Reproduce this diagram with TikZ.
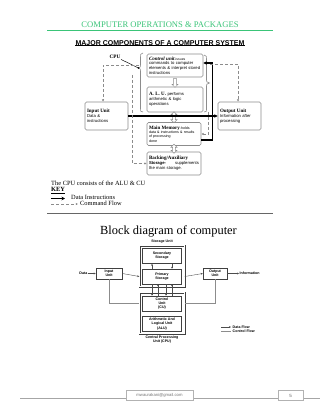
\documentclass[tikz,border=0pt]{standalone}
\usepackage{fontspec}
\setmainfont{Liberation Serif}
\newfontfamily\arial{Liberation Sans}
\usetikzlibrary{arrows.meta,shapes.arrows}
\definecolor{hdrgreen}{RGB}{58,196,120}
\definecolor{boxgray}{RGB}{140,140,140}
\newcommand\bxtitle{\rmfamily\bfseries\fontsize{5}{5.5}\selectfont}
\begin{document}
\begin{tikzpicture}[x=1pt,y=-1pt,
  ubox/.style={draw=boxgray, rounded corners=1.5pt, line width=0.6pt, align=left, inner sep=2pt,
    font=\arial\fontsize{4.2}{4.8}\selectfont},
  dataline/.style={line width=1.2pt, -{Stealth[length=3.5pt,width=3.5pt]}},
  cmd/.style={boxgray, line width=0.5pt, dash pattern=on 3pt off 2pt, -{Latex[length=2.2pt,width=2.2pt]}},
  brc/.style={boxgray, line width=0.6pt},
  hollow/.style={draw=boxgray, fill=white, line width=0.5pt, inner sep=0.8pt, minimum width=6pt},
  lbox/.style={draw=black!75, line width=0.5pt, align=center, inner sep=0.5pt,
    font=\arial\bfseries\fontsize{3.6}{4.1}\selectfont},
  dblbox/.style={draw=black!75, line width=0.45pt, double, double distance=1.1pt},
  ltext/.style={font=\arial\bfseries\fontsize{3.6}{4.1}\selectfont, align=center, inner sep=0.5pt},
  df/.style={black!70, line width=0.4pt, -{Stealth[length=2pt,width=1.8pt]}},
  cf/.style={black!45, line width=0.4pt},
  keytext/.style={font=\fontsize{6.4}{7}\selectfont, anchor=west, inner sep=0pt}
]
\useasboundingbox (0,0) rectangle (320,414);
\fill[white] (0,0) rectangle (320,414);

% header
\node[text=hdrgreen, font=\fontsize{8.6}{9}\selectfont, inner sep=0pt] (hdr) at (160,24.3) {COMPUTER OPERATIONS \& PACKAGES};
\coordinate (hl1) at (47,30.8);
\coordinate (hl2) at (273,30.8);
\draw[hdrgreen, line width=0.8pt] (hl1) -- (hl2);
\node[font=\arial\bfseries\fontsize{7}{8}\selectfont, inner sep=0pt] (major) at (160,42.7) {MAJOR COMPONENTS OF A COMPUTER SYSTEM};
\draw[line width=0.5pt] (major.south west) -- (major.south east);

% upper diagram boxes
\node[ubox, text width=52pt, minimum height=23pt] (cu) at (175,65.5)
  {{\bxtitle\itshape Control unit}{\fontsize{3.4}{4}\selectfont -issues}\\ commands to computer\\ elements \& interpret stored\\ instructions};
\node[ubox, text width=52pt, minimum height=25pt] (alu) at (175,99.5)
  {{\bxtitle A. L. U.} performs\\ arithmetic \& logic\\ operations};
\node[ubox, text width=50pt, minimum height=23pt, font=\arial\fontsize{3.6}{4.3}\selectfont] (mm) at (174,134)
  {{\bxtitle Main Memory}-holds\\ data \& instructions \& results\\ of processing\\ done};
\node[ubox, text width=50pt, minimum height=23pt] (bk) at (174,163.5)
  {{\bxtitle Backing/Auxiliary}\\ {\bfseries Storage-}\hfill supplements\\ the main storage.};
\node[ubox, text width=39pt, minimum height=28pt] (inu) at (106.5,116)
  {{\bxtitle Input Unit}\\ Data \&\\ instructions};
\node[ubox, text width=39pt, minimum height=28pt] (outu) at (239.5,116)
  {{\bxtitle Output Unit}\\ Information after\\ processing};

% hollow arrows between boxes
\node[single arrow, hollow, rotate=-90, minimum height=9pt, single arrow head extend=1.3pt] (h1) at (175,82.2) {};
\node[double arrow, hollow, rotate=90, minimum height=11pt, double arrow head extend=1.3pt] (h2) at (174,117.2) {};
\node[double arrow, hollow, rotate=90, minimum height=9pt, double arrow head extend=1.3pt] (h3) at (174,148.8) {};

% CPU label and braces
\node[font=\bfseries\fontsize{5.2}{6}\selectfont, inner sep=0.5pt] (cpu) at (115,57) {CPU};
\coordinate (lbtip) at (138.5,68);
\draw[brc] (143,53) .. controls (140,53) and (140.5,55) .. (140.5,58) -- (140.5,65)
  .. controls (140.5,67) .. (lbtip) .. controls (140.5,69) .. (140.5,71) -- (140.5,108)
  .. controls (140.5,111) and (140,112) .. (143,112);
\draw[line width=0.45pt] (cpu.south east) -- (lbtip);
\fill (lbtip) circle (0.9pt);
\coordinate (rbtip) at (209.5,83);
\draw[brc] (204,55) .. controls (207,55) and (206.5,57) .. (206.5,60) -- (206.5,80)
  .. controls (206.5,82) .. (rbtip) .. controls (206.5,84) .. (206.5,86) -- (206.5,109)
  .. controls (206.5,111) and (207,112) .. (204,112);

% data lines
\draw[dataline] (inu.east) -- (outu.west);
\coordinate (d1) at (212.5,140);
\coordinate (d2) at (212.5,63);
\draw[line width=1.2pt] (mm.east |- d1) -- (d1) -- (d2);
\draw[dataline] (d2) -- (cu.east |- d2);

% command flow
\coordinate (c0) at (139,65);
\coordinate (c1) at (103,65);
\draw[cmd] (c0) -- (c1) -- (c1 |- inu.north);
\coordinate (c3) at (132,75);
\draw[cmd] (c3) -- (c3 |- bk.west) -- (bk.west);
\coordinate (c4) at (210,64);
\coordinate (c5) at (238,64);
\draw[cmd] (c4) -- (c5) -- (c5 |- outu.north);
\coordinate (c6) at (208.5,112);
\draw[cmd] (c6) -- (c6 |- mm.east) -- (mm.east);

% key
\node[keytext] (cons) at (51,183.5) {The CPU consists of the ALU \& CU};
\node[keytext, font=\bfseries\fontsize{6.4}{7}\selectfont] (key) at (51,190.5) {\underline{KEY}};
\coordinate (k1) at (51,198.5);
\coordinate (k2) at (65,198.5);
\draw[dataline] (k1) -- (k2);
\node[keytext] (kd) at (71,197.2) {Data Instructions};
\coordinate (k3) at (51,204);
\coordinate (k4) at (78,204);
\draw[cmd] (k3) -- (k4);
\node[keytext] (kc) at (80,203.5) {Command Flow};
\coordinate (s1) at (47,213);
\coordinate (s2) at (273,213);
\draw[black!60, line width=0.8pt] (s1) -- (s2);

% lower diagram
\node[font=\fontsize{12.4}{13}\selectfont, inner sep=0pt] (bdtitle) at (168.5,231.5) {Block diagram of computer};
\node[ltext] (stlab) at (162,242) {Storage Unit};
\node[dblbox, minimum width=45pt, minimum height=41pt] (stor) at (162,266) {};
\node[lbox, minimum width=39pt, minimum height=15pt] (sec) at (162,256) {Secondary\\Storage};
\node[lbox, minimum width=39pt, minimum height=15pt] (prim) at (162,276.5) {Primary\\Storage};
\node[lbox, minimum width=26pt, minimum height=11pt] (in2) at (109,273.5) {Input\\Unit};
\node[lbox, minimum width=24pt, minimum height=11pt] (out2) at (215,273.5) {Output\\Unit};
\node[ltext, anchor=east] (data) at (88,273.5) {Data};
\node[ltext, anchor=west] (info) at (239,273.5) {Information};
\draw[df] (data) -- (in2);
\draw[df] (out2) -- (info);
\draw[df] (in2.east) -- (prim.west -| stor.west);
\draw[df] (prim.east -| stor.east) -- (out2.west);
\draw[df] ([xshift=-10pt]prim.north) -- ([xshift=-10pt]sec.south);
\draw[df] ([xshift=10pt]sec.south) -- ([xshift=10pt]prim.north);

\node[dblbox, minimum width=45pt, minimum height=41pt] (cpuo) at (162,313) {};
\node[lbox, minimum width=39pt, minimum height=15pt] (cu2) at (162,303.5) {Control\\Unit\\(CU)};
\node[lbox, minimum width=39pt, minimum height=15pt] (alu2) at (162,324) {Arithmetic And\\Logical Unit\\(ALU)};
\node[ltext] (cpulab) at (162,340) {Central Processing\\Unit (CPU)};
\draw[df] ([xshift=-10pt]prim.south) -- ([xshift=-10pt]cu2.north);
\draw[df] ([xshift=-4pt]cu2.north) -- ([xshift=-4pt]prim.south);
\draw[df] ([xshift=4pt]prim.south) -- ([xshift=4pt]cu2.north);
\draw[df] ([xshift=10pt]cu2.north) -- ([xshift=10pt]prim.south);
\draw[cf] (in2.south) |- (cpuo.west |- cu2.center);
\draw[cf] (out2.south) |- (cpuo.east |- cu2.center);

% legend
\coordinate (l1) at (221,327);
\coordinate (l2) at (231,327);
\draw[df] (l1) -- (l2);
\node[ltext, anchor=west] (ldf) at (232,327) {Data Flow};
\coordinate (l3) at (221,331);
\coordinate (l4) at (231,331);
\draw[cf] (l3) -- (l4);
\node[ltext, anchor=west] (lcf) at (232,331) {Control Flow};

% footer
\coordinate (f1) at (20,398);
\coordinate (f2) at (320,398);
\draw[black!35, line width=0.5pt] (f1) -- (f2);
\node[draw=black!30, fill=white, minimum width=67pt, minimum height=10pt, inner sep=0pt,
  font=\arial\fontsize{4.2}{5}\selectfont, text=black!55] (mail) at (159.5,395.5) {mwaurakani@gmail.com};
\node[draw=black!30, fill=white, minimum width=25pt, minimum height=10pt, inner sep=0pt,
  font=\arial\fontsize{4.5}{5}\selectfont, text=black!60] (pg) at (290.5,395.5) {5};
\end{tikzpicture}
\end{document}
